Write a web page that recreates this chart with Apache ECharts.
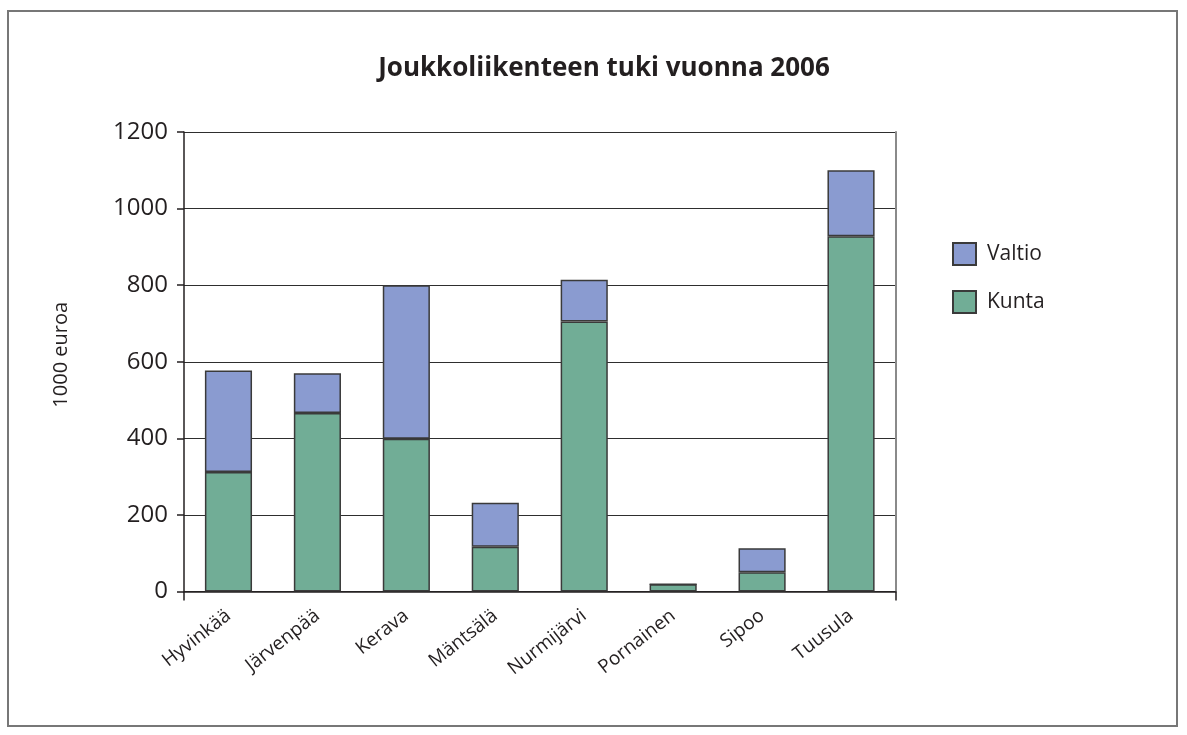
<!DOCTYPE html>
<html>
<head>
<meta charset="utf-8">
<script src="https://cdn.jsdelivr.net/npm/echarts@6/dist/echarts.min.js"></script>
<style>
  html, body { margin: 0; padding: 0; background: #fff; }
  #frame { position: absolute; left: 7px; top: 10px; width: 1171px; height: 717px; border: 2px solid #777; box-sizing: border-box; }
  #chart { position: absolute; left: 0; top: 0; width: 1187px; height: 735px; }
</style>
</head>
<body>
<div id="frame"></div>
<div id="chart"></div>
<script>
// Joukkoliikenteen tuki kunnittain (1000 euroa)
const categories = ['Hyvinkää', 'Järvenpää', 'Kerava', 'Mäntsälä', 'Nurmijärvi', 'Pornainen', 'Sipoo', 'Tuusula'];
const kunta  = [312, 466, 399, 117, 705, 19, 50, 928];
const valtio = [265, 104, 401, 115, 109, 0, 63, 172];
const yTicks = { min: 0, max: 1200, interval: 200 };

const FONT = '"Open Sans", "DejaVu Sans", sans-serif';
const INK = '#231f20';
const chart = echarts.init(document.getElementById('chart'), null, { renderer: 'canvas' });

chart.setOption({
  animation: false,
  backgroundColor: 'transparent',
  textStyle: { fontFamily: FONT, color: INK },
  title: {
    text: 'Joukkoliikenteen tuki vuonna 2006',
    left: 599, top: 51, textAlign: 'center',
    textStyle: { fontFamily: FONT, fontSize: 26, fontWeight: 'bold', color: INK }
  },
  legend: {
    orient: 'vertical', left: 952, top: 242, itemGap: 24, padding: 0,
    itemWidth: 23, itemHeight: 22,
    icon: 'rect',
    textStyle: { fontSize: 21, lineHeight: 22, color: INK, fontFamily: FONT, padding: [0, 0, 0, 6] },
    data: ['Valtio', 'Kunta']
  },
  grid: { left: 184, right: 291.5, top: 132, bottom: 143.5 },
  xAxis: {
    type: 'category',
    data: categories,
    boundaryGap: true,
    axisLine: { lineStyle: { color: INK, width: 1.5 } },
    axisTick: { show: true, length: 9, interval: (i) => i === 0, lineStyle: { color: INK, width: 1.5 } },
    axisLabel: { rotate: 38, fontSize: 19, color: INK, margin: 22, interval: 0 }
  },
  yAxis: [{
    type: 'value',
    min: yTicks.min, max: yTicks.max, interval: yTicks.interval,
    name: '1000 euroa',
    nameLocation: 'middle', nameGap: 113, nameRotate: 90,
    nameTextStyle: { fontSize: 20, color: INK, fontFamily: FONT, padding: [0, 0, 0, 14] },
    axisLine: { show: true, lineStyle: { color: INK, width: 1.5 } },
    axisTick: { show: true, length: 7, lineStyle: { color: INK, width: 1.5 } },
    axisLabel: { fontSize: 24, color: INK, margin: 16, formatter: (v) => String(v) },
    splitLine: { lineStyle: { color: '#2e2e2e', width: 1.2 } }
  }, {
    type: 'value',
    position: 'right',
    min: yTicks.min, max: yTicks.max, interval: yTicks.interval,
    axisLine: { show: true, lineStyle: { color: '#8a8a8a', width: 2 } },
    axisTick: { show: false },
    axisLabel: { show: false },
    splitLine: { show: false }
  }],
  series: [{
    name: 'Kunta', type: 'bar', stack: 'tuki', data: kunta,
    barCategoryGap: '47%',
    itemStyle: { color: '#71ad96', borderColor: '#3a3a3a', borderWidth: 1.5 }
  }, {
    name: 'Valtio', type: 'bar', stack: 'tuki', data: valtio,
    barCategoryGap: '47%',
    itemStyle: { color: '#8a9bd0', borderColor: '#3a3a3a', borderWidth: 1.5 }
  }]
});
</script>
</body>
</html>
